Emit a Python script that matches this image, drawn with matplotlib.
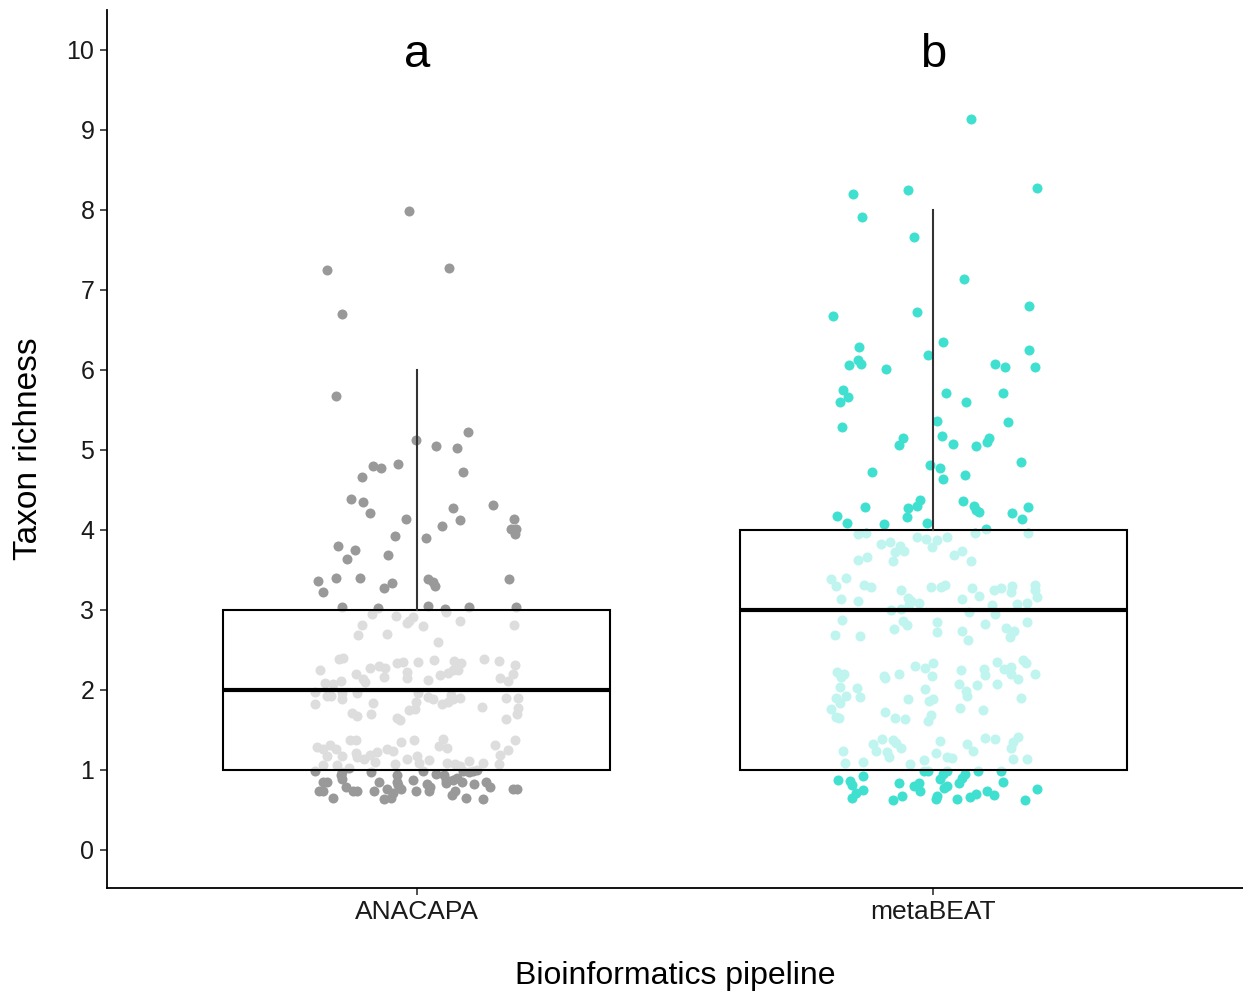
import matplotlib

matplotlib.use("Agg")

import matplotlib.pyplot as plt
import numpy as np

categories = ["ANACAPA", "metaBEAT"]
letters = ["a", "b"]
colors = ["#999999", "#40E0D0"]

# jittered points: horizontal offset from group centre, taxon richness
anacapa_dx = [
    -0.015, -0.174, 0.062, -0.145, -0.157, 0.099, -0.002, 0.037, 0.077, -0.085,
    -0.070, -0.037, -0.106, 0.089, -0.128, -0.104, -0.091, -0.021, 0.070, 0.147,
    0.083, 0.048, 0.188, 0.182, 0.193, 0.191, -0.043, 0.017, -0.153, -0.120,
    -0.056, -0.135, -0.191, -0.157, -0.110, -0.182, -0.064, -0.048, 0.021, 0.031,
    0.035, 0.178, -0.145, -0.075, 0.021, 0.054, 0.101, 0.193,
    -0.087, -0.041, -0.019, -0.015, -0.008, 0.056, 0.083, -0.106, -0.114, -0.058,
    0.012, 0.041, 0.188, -0.151, -0.143, -0.188, -0.118, -0.091, -0.074, -0.062,
    -0.039, -0.027, 0.002, 0.033, 0.072, 0.085, -0.019, -0.019, -0.104, -0.101,
    -0.064, 0.021, 0.046, 0.060, 0.070, 0.079, 0.130, 0.159, 0.191, 0.186,
    0.162, 0.176, -0.178, -0.162, -0.147, -0.197, -0.174, -0.166, -0.145, -0.145,
    -0.116, 0.002, 0.021, 0.031, 0.066, 0.070, 0.083, -0.197, -0.085, -0.002,
    -0.004, -0.015, 0.048, 0.060, 0.126, 0.172, 0.197, 0.197, 0.195, -0.126,
    -0.116, -0.089, -0.039, -0.033, 0.172, -0.130, -0.118, -0.031, -0.006, 0.050,
    0.044, 0.058, 0.191, 0.151, 0.176, 0.161, 0.159, -0.193, -0.182, -0.168,
    -0.157, -0.174, -0.145, -0.118, -0.116, -0.103, -0.091, -0.077, -0.058, -0.046,
    -0.019, 0.000, 0.004, 0.023, -0.081, -0.043, -0.182, -0.155, -0.132, 0.058,
    0.074, 0.083, 0.101, 0.128,
    -0.197, -0.145, -0.089, -0.182, -0.174, -0.147, -0.145, -0.190, -0.182, -0.162,
    -0.137, -0.124, -0.116, -0.074, -0.083, -0.058, -0.046, -0.050, -0.064, -0.039,
    -0.039, -0.037, -0.031, -0.008, -0.002, 0.012, 0.019, 0.025, 0.023, 0.037,
    0.052, 0.056, 0.056, 0.070, 0.077, 0.087, 0.075, 0.068, 0.089, 0.101,
    0.108, 0.116, 0.095, 0.110, 0.128, 0.135, 0.141, 0.186, 0.195,
]
anacapa_y = [
    7.99, 7.25, 7.27, 6.70, 5.67, 5.22, 5.12, 5.05, 5.03, 4.80,
    4.78, 4.83, 4.66, 4.72, 4.39, 4.35, 4.21, 4.14, 4.27, 4.31,
    4.12, 4.05, 4.14, 4.01, 4.01, 3.95, 3.92, 3.90, 3.80, 3.75,
    3.69, 3.64, 3.36, 3.40, 3.40, 3.23, 3.28, 3.34, 3.39, 3.35,
    3.30, 3.39, 3.04, 3.02, 3.05, 3.01, 3.04, 3.04,
    2.95, 2.93, 2.84, 2.86, 2.91, 2.97, 2.86, 2.81, 2.69, 2.70,
    2.80, 2.60, 2.81, 2.39, 2.40, 2.25, 2.20, 2.27, 2.30, 2.27,
    2.34, 2.35, 2.35, 2.37, 2.36, 2.34, 2.22, 2.15, 2.14, 2.10,
    2.16, 2.13, 2.19, 2.21, 2.25, 2.25, 2.39, 2.36, 2.31, 2.20,
    2.15, 2.11, 2.09, 2.08, 2.11, 1.98, 1.93, 1.93, 1.96, 1.89,
    1.96, 1.96, 1.91, 1.89, 1.94, 1.89, 1.90, 1.83, 1.84, 1.85,
    1.76, 1.75, 1.83, 1.85, 1.79, 1.90, 1.90, 1.77, 1.70, 1.71,
    1.68, 1.70, 1.65, 1.62, 1.64, 1.38, 1.38, 1.35, 1.38, 1.39,
    1.30, 1.27, 1.38, 1.31, 1.25, 1.19, 1.08, 1.29, 1.26, 1.31,
    1.26, 1.18, 1.18, 1.21, 1.16, 1.14, 1.19, 1.23, 1.26, 1.24,
    1.14, 1.18, 1.09, 1.12, 1.10, 1.08, 1.06, 1.06, 1.02, 1.09,
    1.08, 1.05, 1.11, 1.09,
    0.99, 0.98, 0.97, 0.85, 0.85, 0.94, 0.89, 0.74, 0.74, 0.65,
    0.79, 0.74, 0.74, 0.85, 0.74, 0.76, 0.71, 0.65, 0.64, 0.94,
    0.85, 0.81, 0.76, 0.88, 0.74, 0.99, 0.83, 0.79, 0.74, 0.95,
    0.94, 0.88, 0.84, 0.88, 0.90, 0.85, 0.74, 0.69, 0.99, 0.98,
    0.99, 1.00, 0.65, 0.83, 0.64, 0.85, 0.79, 0.76, 0.76,
]

metabeat_dx = [
    0.073, -0.155, -0.048, 0.201, -0.137, -0.037, 0.060, -0.193, -0.031, 0.186,
    -0.143, 0.019, 0.186, -0.010, -0.162, -0.145, -0.139, -0.091, 0.120, 0.139,
    0.197, -0.174, -0.180, -0.164, 0.025, 0.064, 0.135, -0.176, 0.008, 0.145,
    -0.058, -0.066, 0.017, 0.039, 0.083, 0.108, 0.104, -0.118, -0.006, 0.014,
    0.019, 0.062, 0.170, -0.186, -0.166, -0.132, -0.095, -0.048, -0.050, -0.031,
    -0.025, -0.012, 0.058, 0.079, 0.083, 0.089, 0.153, 0.172, 0.184, 0.103,
    -0.145, -0.130, -0.031, -0.014, 0.008, 0.027, 0.081, 0.184, -0.101, -0.083,
    -0.064, -0.074, -0.056, -0.002, 0.041, 0.056, 0.073, -0.145, -0.128, -0.077,
    -0.197, -0.188, -0.168, -0.133, -0.120, -0.062, -0.004, 0.015, 0.023, 0.075,
    0.089, 0.118, 0.132, 0.153, 0.151, 0.197, 0.197, 0.201, -0.178, -0.145,
    -0.048, -0.043, -0.046, -0.027, 0.056, 0.114, 0.162, 0.182, -0.081, -0.062,
    0.070, 0.120, -0.176, -0.191, -0.141, -0.075, -0.058, -0.050, 0.008, 0.008,
    0.056, 0.068, 0.101, 0.141, 0.157, 0.149, 0.182, -0.035, -0.015, 0.000,
    -0.002, 0.054, 0.099, 0.101, 0.124, 0.137, 0.151, 0.174, 0.180, 0.151,
    0.164, 0.197, -0.186, -0.172, -0.178, -0.095, -0.093, -0.066, -0.180, -0.147,
    -0.188, -0.180, -0.168, -0.141, -0.197, -0.188, -0.182, -0.048, -0.015, -0.008,
    0.000, 0.050, 0.064, 0.066, 0.085, 0.124, 0.170, -0.093, -0.074, -0.054,
    -0.010, -0.004, 0.052, 0.097, -0.174, -0.170, -0.135, -0.116, -0.110, -0.099,
    -0.077, -0.072, -0.062, -0.089, -0.085, -0.044, -0.017, 0.006, 0.014, 0.027,
    0.037, 0.066, 0.077, 0.101, 0.120, 0.155, 0.151, 0.164, 0.155, 0.182,
    -0.184, -0.161, -0.157, -0.149, -0.157, -0.135, -0.135, -0.066, -0.077, -0.060,
    -0.037, -0.027, -0.025, -0.017, -0.010, 0.014, 0.019, 0.027, 0.008, 0.006,
    0.021, 0.027, 0.046, 0.050, 0.056, 0.062, 0.072, 0.083, 0.087, 0.104,
    0.118, 0.132, 0.135, 0.178, 0.201,
]
metabeat_y = [
    9.14, 8.20, 8.25, 8.27, 7.91, 7.66, 7.14, 6.67, 6.72, 6.80,
    6.29, 6.35, 6.25, 6.19, 6.06, 6.12, 6.07, 6.01, 6.07, 6.04,
    6.04, 5.75, 5.60, 5.66, 5.71, 5.60, 5.71, 5.29, 5.36, 5.35,
    5.15, 5.06, 5.17, 5.07, 5.05, 5.15, 5.10, 4.72, 4.81, 4.78,
    4.64, 4.69, 4.85, 4.17, 4.09, 4.29, 4.08, 4.28, 4.16, 4.30,
    4.38, 4.09, 4.36, 4.30, 4.25, 4.23, 4.21, 4.14, 4.29, 4.01,
    3.95, 3.96, 3.91, 3.89, 3.88, 3.91, 3.96, 3.96, 3.82, 3.85,
    3.80, 3.72, 3.74, 3.79, 3.69, 3.74, 3.61, 3.62, 3.66, 3.61,
    3.39, 3.30, 3.40, 3.31, 3.29, 3.25, 3.29, 3.29, 3.31, 3.27,
    3.18, 3.25, 3.27, 3.30, 3.22, 3.31, 3.25, 3.16, 3.14, 3.11,
    3.15, 3.11, 3.07, 3.09, 3.14, 3.06, 3.07, 3.09, 3.00, 3.01,
    2.98, 2.95, 2.88, 2.69, 2.68, 2.76, 2.86, 2.81, 2.85, 2.73,
    2.74, 2.63, 2.83, 2.78, 2.74, 2.66, 2.85, 2.30, 2.27, 2.34,
    2.17, 2.25, 2.26, 2.19, 2.35, 2.26, 2.29, 2.37, 2.34, 2.20,
    2.14, 2.20, 2.22, 2.20, 2.16, 2.17, 2.15, 2.20, 2.04, 2.03,
    1.90, 1.84, 1.93, 1.91, 1.76, 1.66, 1.65, 1.89, 2.01, 1.86,
    1.89, 2.07, 1.99, 1.93, 2.06, 2.07, 1.90, 1.72, 1.65, 1.64,
    1.61, 1.69, 1.78, 1.75, 1.24, 1.09, 1.10, 1.32, 1.24, 1.39,
    1.38, 1.34, 1.28, 1.23, 1.16, 1.08, 1.12, 1.21, 1.36, 1.16,
    1.15, 1.32, 1.24, 1.40, 1.39, 1.35, 1.28, 1.41, 1.14, 1.14,
    0.88, 0.86, 0.81, 0.71, 0.65, 0.92, 0.75, 0.84, 0.63, 0.68,
    0.80, 0.84, 0.74, 0.99, 0.99, 0.89, 0.95, 0.99, 0.68, 0.64,
    0.78, 0.80, 0.64, 0.84, 0.90, 0.95, 0.66, 0.70, 0.99, 0.74,
    0.69, 0.99, 0.85, 0.63, 0.76,
]

groups_dx = [anacapa_dx, metabeat_dx]
groups_y = [anacapa_y, metabeat_y]

fig = plt.figure(figsize=(12.43, 9.91), dpi=100)
ax = fig.add_axes([0.086, 0.104, 0.914, 0.886])

for i, (dx, ys) in enumerate(zip(groups_dx, groups_y)):
    xs = i + 1 + np.asarray(dx)
    ax.scatter(xs, ys, s=52, color=colors[i], linewidths=0, zorder=1)

# box statistics come from the underlying integer counts
counts = [np.round(ys) for ys in groups_y]
bp = ax.boxplot(
    counts, positions=[1, 2], widths=0.75, whis=1.5, showfliers=False,
    patch_artist=True, showcaps=False, zorder=2,
)
for box in bp["boxes"]:
    box.set_facecolor((1, 1, 1, 0.67))
    box.set_edgecolor("black")
    box.set_linewidth(1.5)
for med in bp["medians"]:
    med.set_color("black")
    med.set_linewidth(3)
for wh in bp["whiskers"]:
    wh.set_color("#333333")
    wh.set_linewidth(1.5)

for i, lab in enumerate(letters):
    ax.text(i + 1, 9.79, lab, ha="center", va="baseline", fontsize=34,
            family="Liberation Sans")

ax.set_xlim(0.4, 2.6)
ax.set_ylim(-0.475, 10.5)
ax.set_xticks([1, 2])
ax.set_xticklabels(categories)
ax.set_yticks(range(0, 11))
for lab in ax.get_xticklabels():
    lab.set_family("Liberation Sans")
    lab.set_fontsize(19)
    lab.set_color("#1a1a1a")
for lab in ax.get_yticklabels():
    lab.set_family("Liberation Sans")
    lab.set_fontsize(18)
    lab.set_color("#1a1a1a")
ax.tick_params(axis="both", length=5, width=1.2, color="#333333", pad=4)
ax.set_xlabel("Bioinformatics pipeline", fontsize=23, family="Liberation Sans",
              labelpad=26)
ax.set_ylabel("Taxon richness", fontsize=24, family="Liberation Sans",
              labelpad=16)
ax.spines["top"].set_visible(False)
ax.spines["right"].set_visible(False)
ax.spines["left"].set_linewidth(1.3)
ax.spines["bottom"].set_linewidth(1.3)

fig.savefig("out.png", dpi=100)
